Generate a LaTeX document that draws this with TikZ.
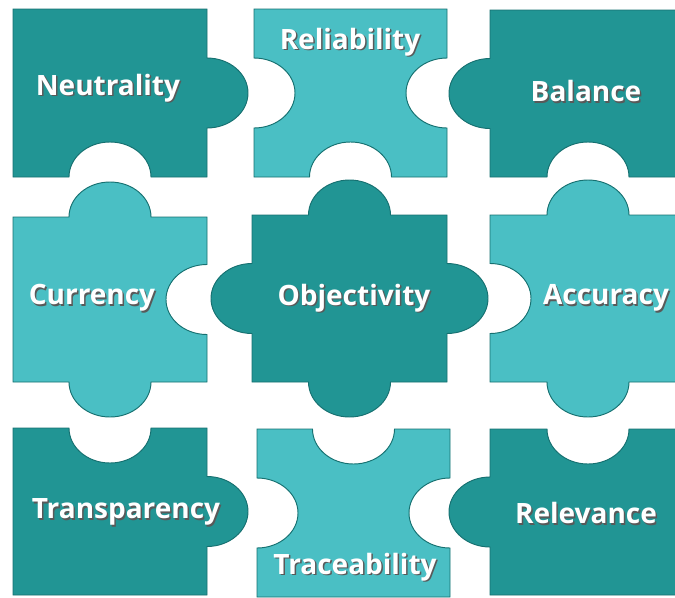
\documentclass[tikz,border=0pt]{standalone}
\usepackage{fontspec}
\setmainfont{Open Sans}
\usetikzlibrary{positioning}
\definecolor{darkteal}{RGB}{33,149,148}
\definecolor{lightteal}{RGB}{74,191,196}
\definecolor{edgeteal}{RGB}{22,112,112}
\tikzstyle{piece}      = [draw=edgeteal, line width=0.7]
\tikzstyle{word}       = [font=\fontsize{21}{24}\selectfont\bfseries, text=white, inner sep=0pt]
\tikzstyle{wordshadow} = [font=\fontsize{21}{24}\selectfont\bfseries, text=black!65, inner sep=0pt]

% x0 y0 x1 y1, then top right bottom left (1 tab, -1 hole, 0 flat), then fill
\newcommand{\puzzlepiece}[9]{%
  \draw[piece, fill=#9] (#1,#2) -- ({(#1+#3)/2-41},#2)
    arc[start angle=180, delta angle={180*#5}, x radius=41, y radius=35] -- (#3,#2)
    -- (#3,{(#2+#4)/2-35})
    arc[start angle=270, delta angle={180*#6}, x radius=41, y radius=35] -- (#3,#4)
    -- ({(#1+#3)/2+41},#4)
    arc[start angle=0, delta angle={180*#7}, x radius=41, y radius=35] -- (#1,#4)
    -- (#1,{(#2+#4)/2+35})
    arc[start angle=90, delta angle={180*#8}, x radius=41, y radius=35] -- cycle;}
\newcommand{\puzzleword}[4]{%
  \node[wordshadow] (#1-s) at ({#2+1.5},{#3+1.5}) {#4};
  \node[word] (#1) at (#2,#3) {#4};}

\begin{document}
\begin{tikzpicture}[x=0.75pt, y=-0.75pt]
  \useasboundingbox (0,0) rectangle (675,597);
  \clip (0,0) rectangle (675,597);

  % row 1
  \puzzlepiece{13}{9}{207}{177}{0}{1}{-1}{0}{darkteal}
  \puzzlepiece{254}{9}{447}{177}{0}{-1}{-1}{-1}{lightteal}
  \puzzlepiece{490}{10}{686}{177}{0}{0}{-1}{1}{darkteal}
  % row 2
  \puzzlepiece{13}{217}{207}{382}{1}{-1}{1}{0}{lightteal}
  \puzzlepiece{252}{215}{447}{382}{1}{1}{1}{1}{darkteal}
  \puzzlepiece{490}{215}{686}{382}{1}{0}{1}{-1}{lightteal}
  % row 3
  \puzzlepiece{13}{428}{207}{595}{-1}{1}{0}{0}{darkteal}
  \puzzlepiece{257}{429}{450}{597}{-1}{-1}{0}{-1}{lightteal}
  \puzzlepiece{490}{429}{686}{595}{-1}{0}{0}{1}{darkteal}

  \puzzleword{neutrality}{108}{88}{Neutrality}
  \puzzleword{reliability}{350}{42}{Reliability}
  \puzzleword{balance}{586}{91}{Balance}
  \puzzleword{currency}{92}{298}{Currency}
  \puzzleword{objectivity}{354}{298}{Objectivity}
  \puzzleword{accuracy}{606}{298}{Accuracy}
  \puzzleword{transparency}{126}{512}{Transparency}
  \puzzleword{traceability}{355}{567}{Traceability}
  \puzzleword{relevance}{586}{513}{Relevance}
\end{tikzpicture}
\end{document}
